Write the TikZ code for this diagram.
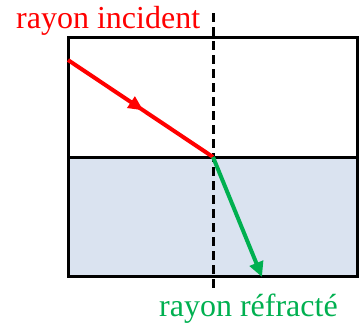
\documentclass[tikz,border=0pt]{standalone}
\usepackage{fontspec}
\setmainfont{Liberation Serif}
\usetikzlibrary{arrows.meta,decorations.markings}
\definecolor{rayred}{RGB}{255,0,0}
\definecolor{raygreen}{RGB}{0,176,80}
\definecolor{waterfill}{RGB}{218,227,240}
\tikzset{
  frameline/.style={line width=3pt,black},
  normalline/.style={line width=3pt,black,dash pattern=on 9pt off 5pt},
  rayline/.style={line width=4pt},
  lbl/.style={font=\rmfamily\fontsize{32}{32}\selectfont,inner sep=0pt,anchor=base west}
}
\begin{document}
\begin{tikzpicture}[x=1pt,y=-1pt]
\useasboundingbox (0,0) rectangle (364,324);
\coordinate (tl) at (68,37);
\coordinate (br) at (357,276);
\coordinate (ml) at (68,157);
\coordinate (mr) at (357,157);
\coordinate (I) at (213,157);
\coordinate (nt) at (213,13);
\coordinate (nb) at (213,292);
\coordinate (rs) at (68,60);
\coordinate (ge) at (262,277);
\fill[waterfill] (ml) rectangle (br);
\draw[frameline] (tl) rectangle (br);
\draw[frameline] (ml) -- (mr);
\draw[normalline] (nt) -- (nb);
\draw[rayline,rayred,postaction={decorate},decoration={markings,mark=at position 0.52 with {\arrow{Triangle[length=15pt,width=13pt]}}}] (rs) -- (I);
\draw[rayline,raygreen,-{Triangle[length=15pt,width=14pt]}] (I) -- (ge);
\node[lbl,text=rayred] (inc) at (16,28) {rayon incident};
\node[lbl,text=raygreen] (ref) at (159,316) {rayon réfracté};
\end{tikzpicture}
\end{document}
